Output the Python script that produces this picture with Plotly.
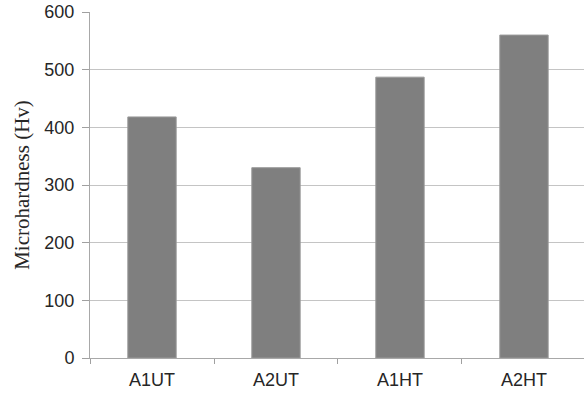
import plotly.graph_objects as go

categories = ["A1UT", "A2UT", "A1HT", "A2HT"]
hardness = [418, 330, 487, 560]
y_ticks = [0, 100, 200, 300, 400, 500, 600]

fig = go.Figure()
fig.add_trace(go.Bar(
    x=categories, y=hardness,
    marker=dict(color="#7f7f7f", line=dict(color="#9a9a9a", width=1)),
    width=0.39,
))

fig.update_layout(
    width=584, height=397,
    margin=dict(l=90, r=0, t=12, b=39),
    paper_bgcolor="white", plot_bgcolor="white",
    showlegend=False,
    font=dict(family="Liberation Sans, Arial, sans-serif", size=18, color="#262626"),
)
fig.update_xaxes(
    range=[-0.5, 3.484],
    tickson="boundaries", ticks="outside", ticklen=5, tickcolor="#a0a0a0",
    showline=True, linecolor="#a8a8a8", linewidth=1,
    showgrid=False,
    ticklabelstandoff=5,
    tickfont=dict(size=18, color="#262626"),
)
fig.update_yaxes(
    range=[0, 600], tickvals=y_ticks,
    ticks="outside", ticklen=7, tickcolor="#a0a0a0",
    showline=True, linecolor="#a8a8a8", linewidth=1,
    showgrid=True, gridcolor="#c4c4c4", gridwidth=1,
    zeroline=False,
    ticklabelstandoff=4,
    tickfont=dict(size=18, color="#262626"),
    title=dict(text="Microhardness (Hv)", standoff=9,
               font=dict(family="Liberation Serif, Times New Roman, serif", size=21, color="#262626")),
)

fig.write_html("out.html", config={"displayModeBar": False},
               post_script="document.body.style.margin='0';")
